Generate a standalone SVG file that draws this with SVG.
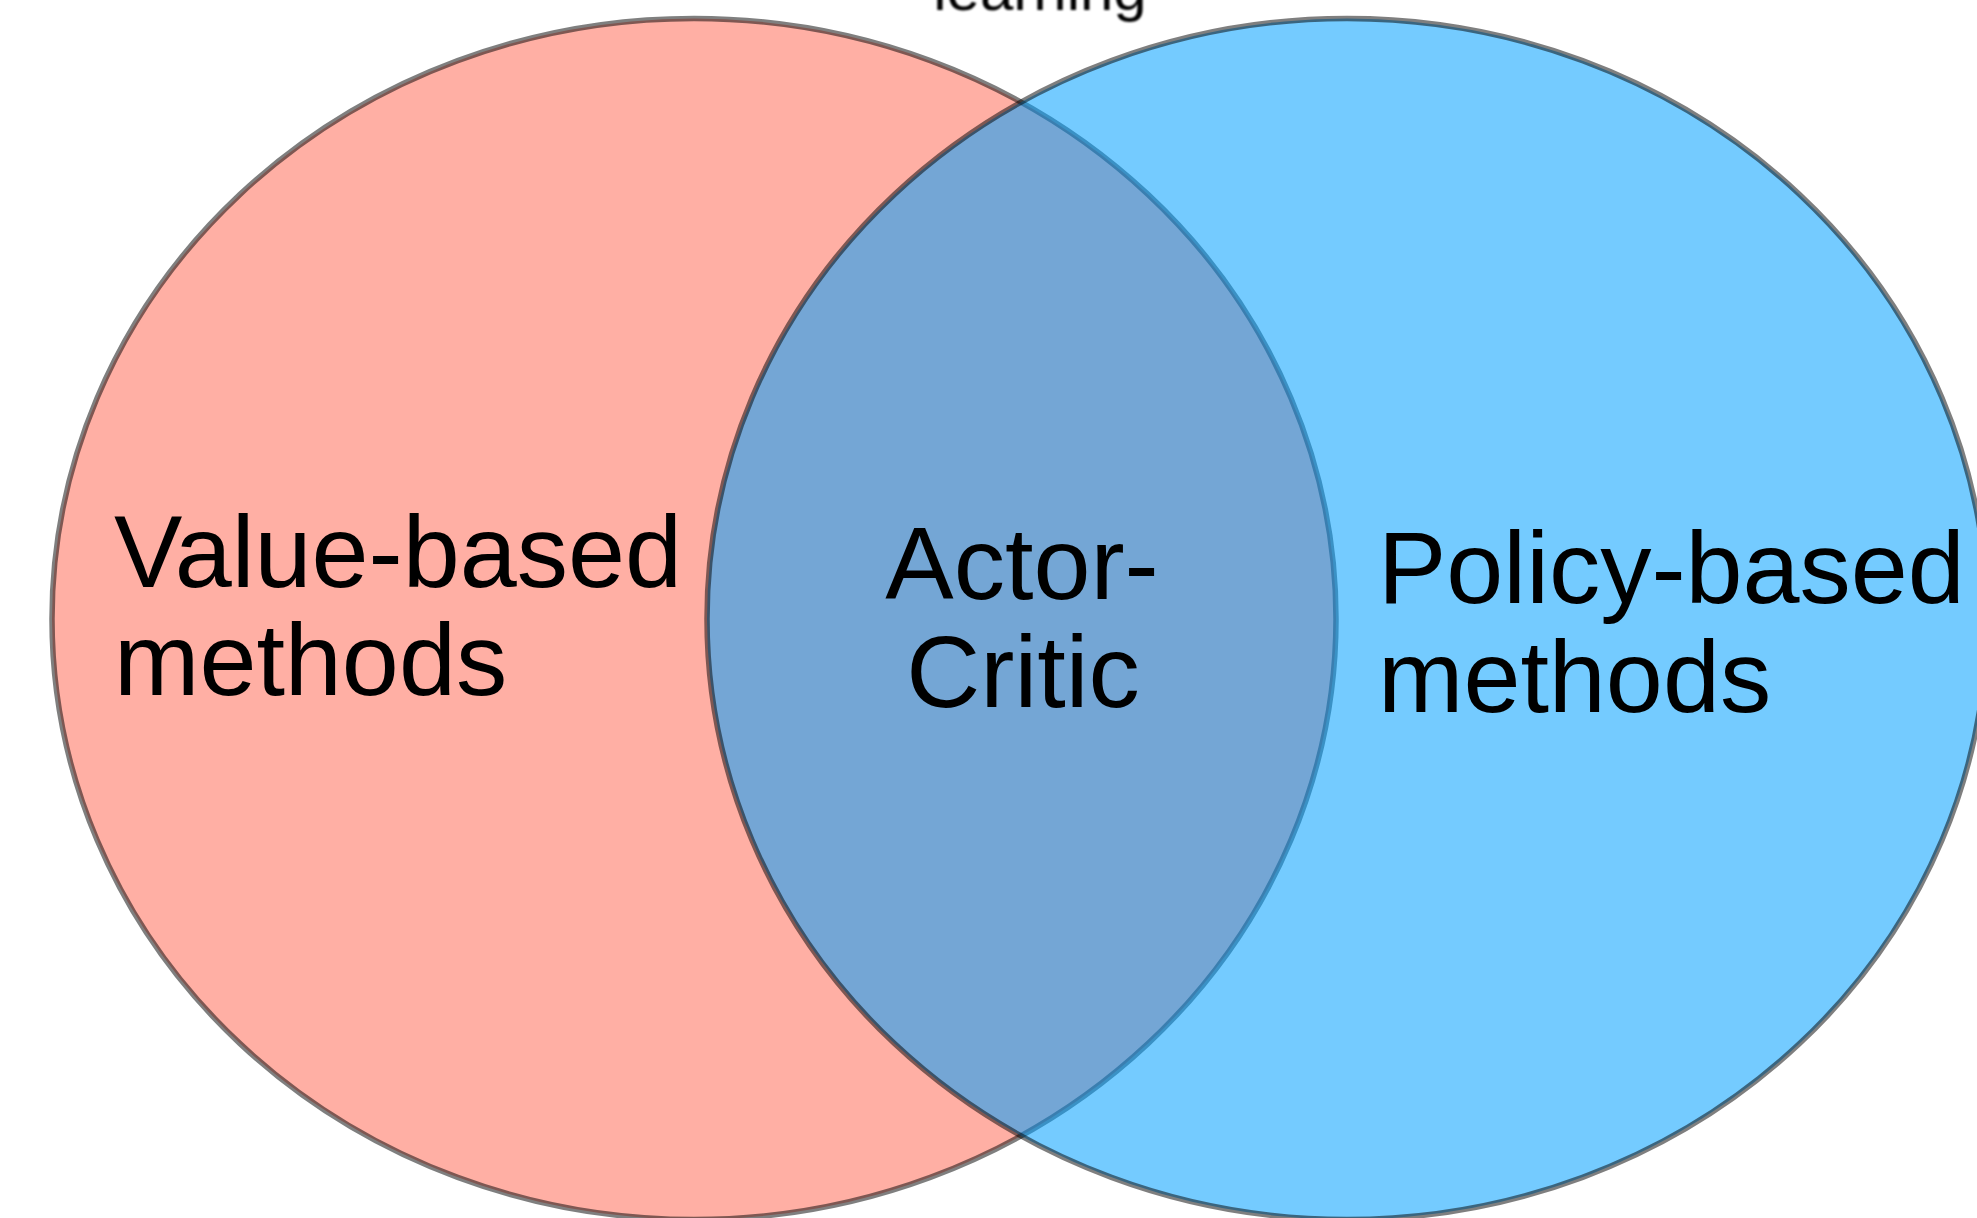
<svg xmlns="http://www.w3.org/2000/svg" width="1977" height="1218" viewBox="0 0 1977 1218">
  <style>
    .set { stroke: #000; stroke-opacity: 0.5; stroke-width: 5.5; }
    .label { font-family: "Liberation Sans", Arial, Helvetica, sans-serif; font-size: 102.5px; fill: #000; }
    .title { font-family: "Liberation Sans", Arial, Helvetica, sans-serif; font-size: 60px; fill: #000; }
  </style>
  <defs>
    <filter id="soft" x="-10%" y="-50%" width="120%" height="200%">
      <feGaussianBlur stdDeviation="1.2"/>
    </filter>
  </defs>
  <rect width="1977" height="1218" fill="#fff"/>

  <!-- title, mostly above the top edge -->
  <text class="title" x="1040" y="10" text-anchor="middle" filter="url(#soft)">learning</text>

  <!-- value-based set -->
  <g id="value-based">
    <ellipse class="set" cx="694" cy="619" rx="642" ry="600.5" fill="#FFAFA4"/>
    <text class="label" x="114" y="587">Value-based</text>
    <text class="label" x="114" y="695">methods</text>
  </g>

  <!-- policy-based set, translucent so the overlap shows through -->
  <g id="policy-based">
    <ellipse class="set" cx="1347" cy="619" rx="640" ry="600.5" fill="#00A0FF" fill-opacity="0.545"/>
    <text class="label" x="1378" y="603">Policy-based</text>
    <text class="label" x="1378" y="712">methods</text>
  </g>

  <!-- overlap label -->
  <g id="actor-critic">
    <text class="label" x="1022" y="599" text-anchor="middle">Actor-</text>
    <text class="label" x="1023" y="707" text-anchor="middle">Critic</text>
  </g>

  <g id="connectors"/>
</svg>
